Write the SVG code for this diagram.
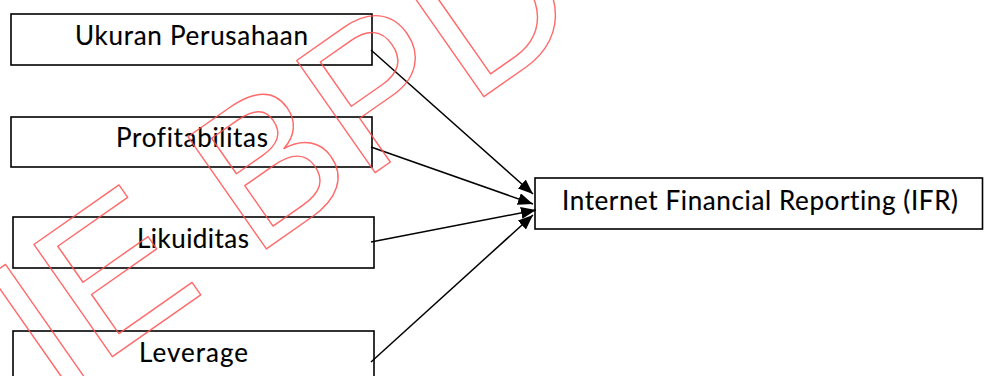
<svg xmlns="http://www.w3.org/2000/svg" width="984" height="376" viewBox="0 0 984 376">
<style>
.box{fill:#fff;stroke:#000;stroke-width:1.6}
.lbl{font-family:Lato,"Liberation Sans",sans-serif;font-size:26px;fill:#000;text-anchor:middle;font-variant-ligatures:none;stroke:#000;stroke-width:0.15}
.con{stroke:#000;stroke-width:1.5;fill:none;marker-end:url(#ah)}
.wm{font-family:"Liberation Sans",Arial,sans-serif;font-size:199px;fill:none;stroke:#ff5050;stroke-width:1.4;stroke-opacity:0.85;stroke-linejoin:round}
</style>
<defs>
<marker id="ah" viewBox="0 0 15 12" refX="15" refY="6" markerWidth="15" markerHeight="12" markerUnits="userSpaceOnUse" orient="auto">
<path d="M0,0 L15,6 L0,12 z" fill="#000"/>
</marker>
</defs>
<rect width="984" height="376" fill="#fff"/>
<g id="node-ukuran"><rect class="box" x="11" y="14" width="361" height="51"/><text class="lbl" x="191.5" y="45" textLength="233">Ukuran Perusahaan</text></g>
<g id="node-profitabilitas"><rect class="box" x="11" y="117" width="361" height="50"/><text class="lbl" x="192" y="147" textLength="152">Profitabilitas</text></g>
<g id="node-likuiditas"><rect class="box" x="13" y="217" width="361" height="51"/><text class="lbl" x="193" y="248" textLength="112">Likuiditas</text></g>
<g id="node-leverage"><rect class="box" x="13" y="331" width="361" height="60"/><text class="lbl" x="193.5" y="362" textLength="109">Leverage</text></g>
<g id="node-ifr"><rect class="box" x="535" y="178" width="447.5" height="51"/><text class="lbl" x="760" y="210" textLength="396">Internet Financial Reporting (IFR)</text></g>
<g id="connectors">
<line class="con" x1="371" y1="50" x2="533" y2="194"/>
<line class="con" x1="371" y1="147" x2="533" y2="204"/>
<line class="con" x1="371" y1="242" x2="536" y2="210"/>
<line class="con" x1="371" y1="362" x2="533" y2="215"/>
</g>
<g id="watermark">
<text class="wm" transform="translate(53.8,397.8) rotate(-35)">IE BPD</text>
</g>
</svg>
